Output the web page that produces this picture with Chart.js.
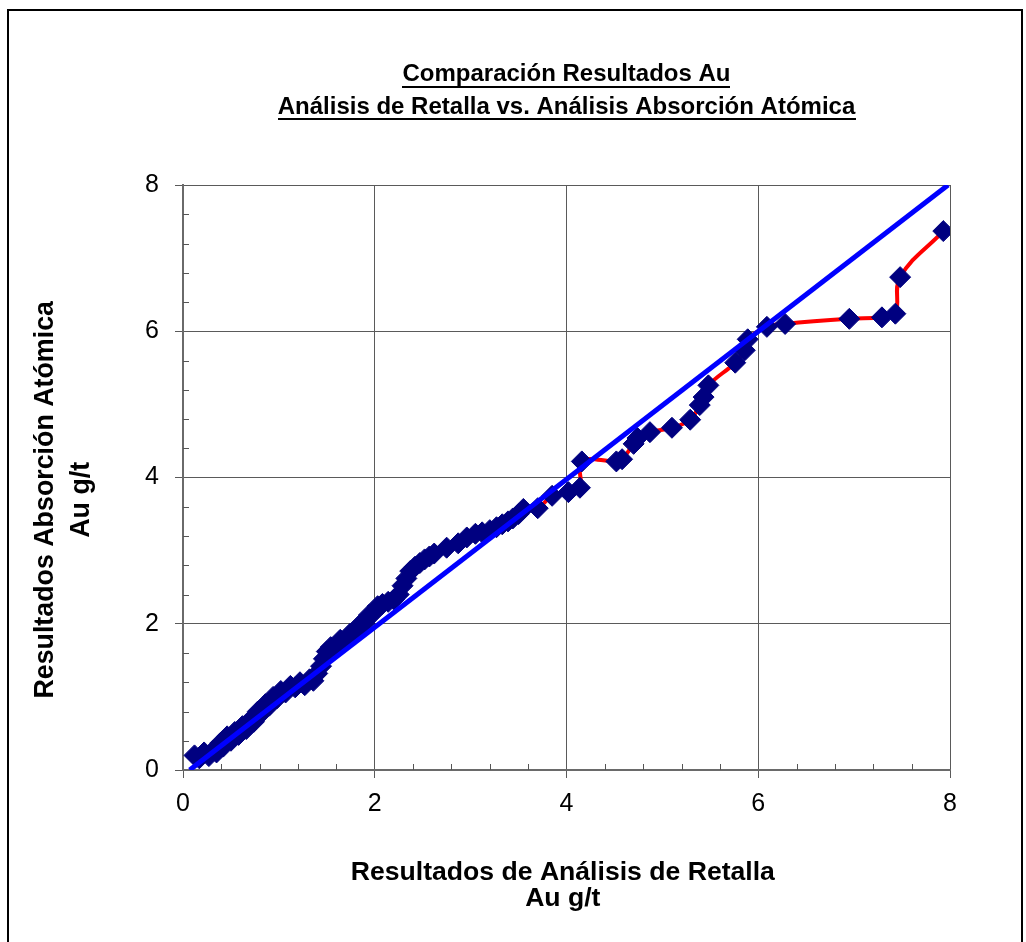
<!DOCTYPE html>
<html><head><meta charset="utf-8">
<script src="https://cdn.jsdelivr.net/npm/chart.js@4.4.1/dist/chart.umd.min.js"></script>
<style>
html,body{margin:0;padding:0;background:#fff;}
#wrap{position:relative;width:1026px;height:942px;overflow:hidden;}
canvas{position:absolute;left:0;top:0;}
#frame{position:absolute;left:7px;top:9px;width:1016px;height:960px;border:2px solid #000;box-sizing:border-box;pointer-events:none;}
</style></head><body>
<div id="wrap"><canvas id="c" width="1026" height="942"></canvas><div id="frame"></div></div>
<script>
// ---- data ----
const titleLines = ['Comparación Resultados Au', 'Análisis de Retalla vs. Análisis Absorción Atómica'];
const xTitleLines = ['Resultados de Análisis de Retalla ', 'Au g/t '];
const yTitleLines = ['Resultados Absorción Atómica      ', 'Au g/t      '];
const xTickValues = [0, 2, 4, 6, 8];
const yTickValues = [0, 2, 4, 6, 8];
const retallaAu = [0.12,0.17,0.22,0.27,0.31,0.35,0.39,0.42,0.46,0.50,
  0.54,0.58,0.62,0.66,0.70,0.74,0.78,0.82,0.86,0.90,
  0.94,0.98,1.02,1.07,1.12,1.17,1.22,1.27,1.32,1.36,
  1.40,1.44,1.47,1.50,1.54,1.59,1.64,1.69,1.74,1.79,
  1.84,1.89,1.94,1.98,2.03,2.08,2.14,2.20,2.25,2.29,
  2.33,2.37,2.42,2.47,2.52,2.57,2.62,2.75,2.87,2.96,
  3.05,3.12,3.20,3.27,3.33,3.39,3.44,3.50,3.55,3.70,
  3.85,4.02,4.14,4.16,4.52,4.58,4.70,4.74,4.87,5.10,
  5.29,5.39,5.43,5.48,5.76,5.86,5.89,6.09,6.28,6.95,
  7.29,7.43,7.48,7.93];
const absorcionAu = [0.20,0.16,0.24,0.19,0.26,0.24,0.37,0.32,0.46,0.40,
  0.52,0.48,0.60,0.56,0.68,0.66,0.80,0.78,0.90,0.88,
  1.00,0.98,1.08,1.06,1.15,1.13,1.20,1.16,1.24,1.22,
  1.32,1.42,1.52,1.62,1.68,1.66,1.78,1.76,1.86,1.86,
  1.98,2.00,2.12,2.14,2.24,2.27,2.30,2.33,2.40,2.52,
  2.62,2.72,2.78,2.83,2.88,2.92,2.96,3.04,3.10,3.18,
  3.23,3.25,3.28,3.32,3.36,3.40,3.44,3.50,3.57,3.58,
  3.75,3.80,3.86,4.22,4.22,4.25,4.46,4.54,4.62,4.68,
  4.79,4.99,5.10,5.26,5.57,5.74,5.89,6.06,6.10,6.17,
  6.19,6.24,6.74,7.37];
const refLineX = [0.07, 7.98];
const refLineY = [0, 8];

// ---- chart ----
const FONT = "'Liberation Sans', Arial, Helvetica, sans-serif";
Chart.defaults.font.family = FONT;
Chart.defaults.color = '#000';

const titleUnderline = {
  id: 'titleUnderline',
  afterDraw(chart) {
    const tb = chart.titleBlock;
    if (!tb) return;
    const ctx = chart.ctx;
    const o = tb.options;
    const f = Chart.helpers.toFont(o.font);
    const pad = Chart.helpers.toPadding(o.padding);
    const cx = (tb.left + tb.right) / 2;
    ctx.save();
    ctx.font = f.string;
    ctx.fillStyle = '#000';
    const lines = Array.isArray(o.text) ? o.text : [o.text];
    lines.forEach((t, i) => {
      const full = ctx.measureText(t).width;
      const w = ctx.measureText(t.trim()).width;
      const y = tb.top + pad.top + f.lineHeight / 2 + i * f.lineHeight + 11;
      ctx.fillRect(Math.round(cx - full / 2), Math.round(y), Math.round(w), 2);
    });
    ctx.restore();
  }
};

const minorTicks = {
  id: 'minorTicks',
  beforeDatasetsDraw(chart) {
    const ctx = chart.ctx, a = chart.chartArea;
    const xs = chart.scales.x, ys = chart.scales.y;
    ctx.save();
    ctx.strokeStyle = '#555';
    ctx.lineWidth = 1;
    ctx.beginPath();
    for (let k = 1; k < 20; k++) {
      if (k % 5 === 0) continue;
      const v = k * 0.4;
      const px = Math.round(xs.getPixelForValue(v)) + 0.5;
      ctx.moveTo(px, a.bottom);
      ctx.lineTo(px, a.bottom - 6);
      const py = Math.round(ys.getPixelForValue(v)) + 0.5;
      ctx.moveTo(a.left, py);
      ctx.lineTo(a.left + 6, py);
    }
    ctx.stroke();
    ctx.restore();
  }
};

new Chart(document.getElementById('c'), {
  type: 'scatter',
  data: {
    datasets: [
      {
        label: 'Retalla vs Absorción Atómica',
        data: retallaAu.map((x, i) => ({ x: x, y: absorcionAu[i] })),
        showLine: true,
        borderColor: '#FF0000',
        borderWidth: 4,
        tension: 0.4,
        pointStyle: 'rectRot',
        pointRadius: 10.5,
        pointBackgroundColor: '#000080',
        pointBorderColor: '#000080',
        pointBorderWidth: 1,
        order: 1
      },
      {
        label: 'x = y',
        data: refLineX.map((x, i) => ({ x: x, y: refLineY[i] })),
        showLine: true,
        borderColor: '#0000FF',
        borderWidth: 5,
        pointRadius: 0,
        order: 0
      }
    ]
  },
  options: {
    responsive: false,
    animation: false,
    devicePixelRatio: 1,
    layout: { padding: { top: 0, left: 0, right: 76, bottom: 0 } },
    plugins: {
      legend: { display: false },
      tooltip: { enabled: false },
      title: {
        display: true,
        fullSize: false,
        text: titleLines,
        color: '#000',
        font: { size: 24, weight: 'bold', lineHeight: 1.35 },
        padding: { top: 58.3, bottom: 61.9 }
      }
    },
    scales: {
      x: {
        type: 'linear', min: 0, max: 8,
        afterBuildTicks(s) { s.ticks = xTickValues.map(v => ({ value: v })); },
        afterFit(s) { s.height = 172; },
        ticks: { font: { size: 25 }, color: '#000', padding: 11, maxRotation: 0 },
        grid: { color: '#5a5a5a', lineWidth: 1, tickLength: 8, tickColor: '#5a5a5a' },
        border: { color: '#6a6a6a', width: 2 },
        title: { display: true, text: xTitleLines, color: '#000',
          font: { size: 26.6, weight: 'bold', lineHeight: 0.98 }, padding: { top: 0, bottom: 30 } }
      },
      y: {
        type: 'linear', min: 0, max: 8,
        afterBuildTicks(s) { s.ticks = yTickValues.map(v => ({ value: v })); },
        afterFit(s) { s.width = 183; },
        ticks: { font: { size: 25 }, color: '#000', padding: 16 },
        grid: { color: '#5a5a5a', lineWidth: 1, tickLength: 8, tickColor: '#5a5a5a' },
        border: { color: '#6a6a6a', width: 2 },
        title: { display: true, text: yTitleLines, color: '#000',
          font: { size: 26.8, weight: 'bold', lineHeight: 1.34 }, padding: { top: 27.5, bottom: 0 } }
      }
    }
  },
  plugins: [titleUnderline, minorTicks]
});
</script>
</body></html>
